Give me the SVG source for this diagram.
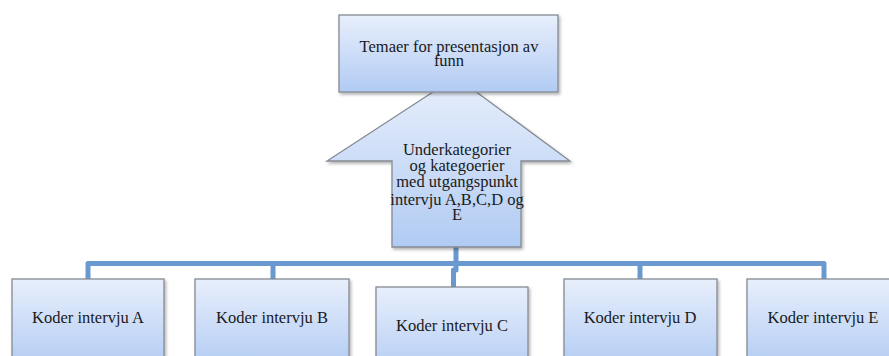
<svg xmlns="http://www.w3.org/2000/svg" width="889" height="356" viewBox="0 0 889 356">
  <defs>
    <linearGradient id="g" x1="0" y1="0" x2="0" y2="1">
      <stop offset="0" stop-color="#e8effc"/>
      <stop offset="1" stop-color="#b1cbf3"/>
    </linearGradient>
    <filter id="sh" x="-10%" y="-10%" width="130%" height="130%">
      <feDropShadow dx="1.5" dy="2" stdDeviation="1.5" flood-color="#000" flood-opacity="0.3"/>
    </filter>
  </defs>
  <style>
    .box { fill: url(#g); stroke: #858a92; stroke-width: 1.3; filter: url(#sh); }
    .t { font-family: "Liberation Serif", "Times New Roman", serif; font-size: 16.5px; fill: #1a1a1a; text-anchor: middle; }
    .c { fill: none; stroke: #6a99cf; stroke-width: 5; stroke-linejoin: round; }
  </style>
  <rect width="889" height="356" fill="#ffffff"/>
  <g id="connectors">
    <path class="c" d="M88,279 V263.5 H824 V279"/>
    <path class="c" d="M273,263.5 V279"/>
    <path class="c" d="M640,263.5 V279"/>
    <path class="c" d="M456,247 V270 H453.5 V288"/>
  </g>
  <g id="arrow">
    <polygon class="box" points="456,77 570,161 521,161 521,247 392,247 392,161 327,161"/>
    <text class="t"><tspan x="457" y="155">Underkategorier</tspan><tspan x="457" y="171">og kategoerier</tspan><tspan x="457" y="187">med utgangspunkt</tspan><tspan x="457" y="205">intervju A,B,C,D og</tspan><tspan x="457" y="220">E</tspan></text>
  </g>
  <g id="top">
    <rect class="box" x="339" y="15" width="219" height="77"/>
    <text class="t"><tspan x="449" y="52">Temaer for presentasjon av</tspan><tspan x="449" y="66">funn</tspan></text>
  </g>
  <g id="koderA">
    <rect class="box" x="12" y="279" width="152" height="90"/>
    <text class="t" x="88" y="323">Koder intervju A</text>
  </g>
  <g id="koderB">
    <rect class="box" x="195" y="279" width="154" height="90"/>
    <text class="t" x="272" y="323">Koder intervju B</text>
  </g>
  <g id="koderC">
    <rect class="box" x="376" y="287" width="152" height="90"/>
    <text class="t" x="452" y="331">Koder intervju C</text>
  </g>
  <g id="koderD">
    <rect class="box" x="564" y="279" width="153" height="90"/>
    <text class="t" x="640" y="323">Koder intervju D</text>
  </g>
  <g id="koderE">
    <rect class="box" x="747" y="279" width="153" height="90"/>
    <text class="t" x="823" y="323">Koder intervju E</text>
  </g>
</svg>
